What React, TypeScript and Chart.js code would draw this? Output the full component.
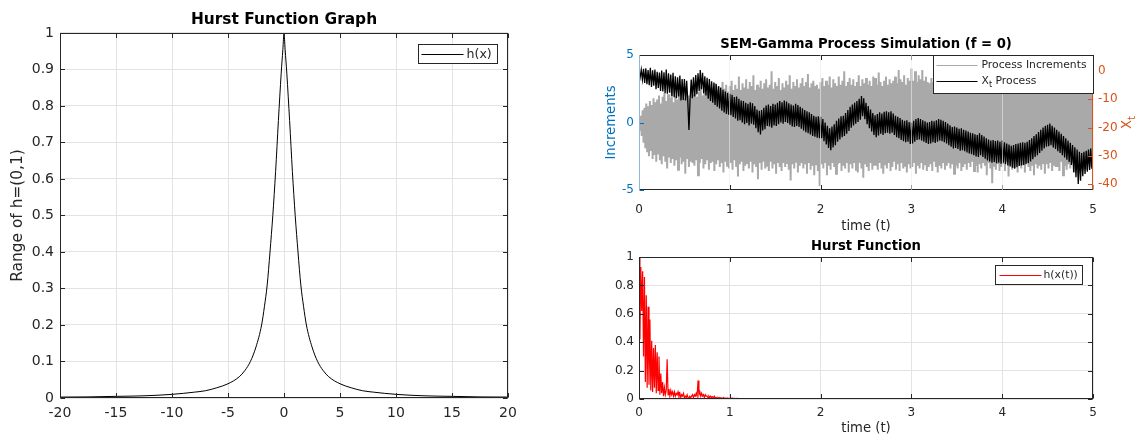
import React, { useEffect, useRef } from 'react';
import { Chart, registerables } from 'chart.js';

Chart.register(...registerables);

const FONT = '"DejaVu Sans", sans-serif';
const AX = '#262626';
const GRID = '#e3e3e3';
const BLUE = '#0072BD';
const ORANGE = '#D95319';
const GRAY = '#a9a9a9';

Chart.defaults.font.family = FONT;

// ---------- Left: Hurst function graph ----------
const hurstX = [-20, -17.5, -15, -12.5, -10, -8, -7, -6, -5, -4, -3.5, -3, -2.5, -2, -1.75, -1.5, -1.25, -1, -0.75, -0.5, -0.25, -0.1, 0,
  0.1, 0.25, 0.5, 0.75, 1, 1.25, 1.5, 1.75, 2, 2.5, 3, 3.5, 4, 5, 6, 7, 8, 10, 12.5, 15, 17.5, 20];
const hurstY = [0.0025, 0.003, 0.0045, 0.006, 0.01, 0.016, 0.02, 0.028, 0.039, 0.058, 0.075, 0.1, 0.14, 0.2, 0.25, 0.31, 0.4, 0.5, 0.62, 0.76, 0.89, 0.955, 1.0,
  0.955, 0.89, 0.76, 0.62, 0.5, 0.4, 0.31, 0.25, 0.2, 0.14, 0.1, 0.075, 0.058, 0.039, 0.028, 0.02, 0.016, 0.01, 0.006, 0.0045, 0.003, 0.0025];

// ---------- Top right: SEM-Gamma process ----------
const INC_DT = 0.01;
const increments = [
  0.0, -0.6, 0.5, -1.0, 0.9, -1.5, 1.1, -1.9, 1.4, -2.2, 1.2, -2.5, 1.6, -2.1, 1.3, -2.7, 1.8, -2.4, 1.5, -2.9,
  1.7, -2.3, 2.0, -2.8, 1.4, -3.1, 1.9, -2.5, 2.2, -2.9, 1.6, -3.4, 2.1, -2.6, 1.8, -3.0, 2.4, -2.7, 1.5, -3.2,
  2.0, -2.8, 1.7, -3.5, 2.3, -2.6, 1.9, -3.1, 2.5, -2.9, 1.8, -3.8, 2.2, -2.7, 2.0, -3.3, 1.7, -2.9, 2.4, -3.0,
  2.1, -3.2, 2.6, -2.8, 1.9, -3.9, 2.3, -3.0, 2.7, -2.7, 2.0, -3.4, 2.5, -3.1, 2.2, -2.8, 2.8, -3.5, 2.1, -3.0,
  2.6, -2.9, 2.3, -3.6, 2.9, -3.1, 2.4, -2.8, 2.7, -3.3, 2.2, -3.0, 3.0, -3.7, 2.5, -2.9, 2.8, -3.2, 2.3, -3.4,
  2.7, -3.0, 3.1, -3.5, 2.4, -2.8, 2.8, -3.3, 2.5, -4.0, 3.4, -3.1, 2.4, -2.9, 2.9, -3.6, 2.6, -3.2, 3.2, -3.0,
  2.5, -3.4, 3.0, -2.9, 2.7, -3.7, 3.5, -3.1, 2.4, -3.3, 2.8, -4.2, 2.6, -3.0, 3.1, -3.5, 2.5, -2.9, 2.9, -3.4,
  3.2, -3.2, 2.6, -3.6, 2.8, -2.9, 3.8, -3.4, 2.5, -3.1, 3.0, -3.8, 2.7, -3.0, 3.3, -3.3, 2.4, -3.6, 2.9, -3.0,
  2.6, -3.3, 3.1, -3.0, 2.8, -3.5, 3.5, -4.3, 2.5, -3.1, 3.0, -3.4, 2.7, -2.9, 3.2, -3.7, 2.6, -3.2, 2.9, -3.0,
  3.3, -3.4, 2.7, -3.1, 3.0, -3.8, 3.6, -3.0, 2.6, -3.5, 2.9, -3.2, 3.1, -3.9, 2.7, -3.1, 2.8, -3.6, 2.5, -4.7,
  3.0, -3.1, 3.3, -3.4, 2.7, -3.0, 3.1, -3.9, 2.8, -3.2, 3.4, -3.5, 2.6, -3.0, 3.2, -3.3, 2.9, -3.8, 2.7, -3.1,
  3.4, -3.0, 2.8, -3.6, 3.1, -3.2, 3.8, -3.4, 2.7, -3.0, 3.0, -3.7, 3.3, -3.1, 2.8, -3.4, 3.2, -3.0, 2.7, -3.5,
  3.0, -3.7, 3.5, -3.0, 2.7, -3.4, 3.2, -4.1, 2.9, -3.1, 3.3, -3.3, 2.8, -3.6, 3.1, -3.0, 2.7, -3.5, 3.4, -3.2,
  3.3, -3.2, 2.8, -3.5, 3.7, -3.0, 3.0, -3.4, 2.7, -3.8, 3.1, -3.1, 3.4, -3.4, 2.8, -3.0, 3.2, -3.6, 2.9, -3.3,
  3.1, -2.9, 3.4, -3.5, 2.9, -3.1, 3.9, -3.6, 3.2, -3.0, 3.0, -3.4, 3.5, -3.2, 2.8, -3.7, 3.3, -3.1, 3.1, -3.4,
  4.0, -3.3, 3.1, -3.0, 3.8, -3.8, 3.0, -3.2, 3.5, -3.4, 3.2, -3.0, 3.9, -3.5, 3.1, -3.1, 3.4, -3.6, 3.0, -3.3,
  2.9, -3.1, 3.3, -3.6, 3.0, -2.9, 3.4, -3.3, 2.8, -3.7, 3.2, -3.2, 2.9, -3.4, 3.5, -3.0, 3.0, -3.5, 2.8, -3.2,
  3.2, -3.0, 2.9, -3.4, 3.5, -3.1, 3.0, -3.8, 2.7, -3.2, 3.3, -3.4, 2.9, -3.0, 3.1, -3.6, 2.8, -3.3, 3.4, -3.1,
  3.3, -3.5, 2.8, -3.0, 3.2, -3.3, 3.6, -2.9, 2.9, -3.6, 3.1, -3.2, 2.8, -3.7, 3.4, -3.1, 3.0, -3.4, 2.8, -3.0,
  3.1, -3.2, 3.4, -3.9, 2.9, -3.0, 3.2, -3.4, 2.8, -4.5, 3.3, -3.2, 3.0, -3.5, 2.8, -3.1, 3.5, -3.6, 2.9, -3.3,
  3.5, -3.1, 3.0, -3.6, 3.3, -2.9, 2.9, -4.0, 3.2, -3.2, 2.8, -3.5, 3.4, -3.3, 3.0, -3.0, 3.2, -3.7, 2.8, -3.2,
  3.0, -3.4, 3.4, -3.1, 2.8, -3.7, 3.1, -3.0, 3.3, -3.3, 2.9, -3.6, 3.2, -3.2, 2.8, -3.9, 3.4, -3.1, 3.0, -3.4,
  2.9, -3.2, 3.2, -3.5, 3.5, -3.0, 3.0, -3.8, 2.8, -3.1, 3.3, -3.4, 2.9, -3.0, 3.1, -3.6, 3.4, -3.2, 2.8, -3.3,
  3.3, -3.3, 2.9, -3.6, 3.1, -2.9, 3.4, -3.9, 3.0, -3.2, 2.8, -3.5, 3.2, -3.1, 3.5, -3.4, 2.9, -3.0, 3.1, -3.7,
  3.2, -3.4, 2.8, -3.1, 3.3, -3.7, 3.1, -3.0, 2.9, -3.4, 3.4, -3.2, 3.0, -3.5, 2.8, -3.1, 3.2, -3.3, 2.9, -3.0,
  0.4,
];

const X_DT = 0.0125;
const xProcess = [
  0.0, -2.2, 0.5, -3.0, 0.8, -4.2, 1.0, -4.6, 0.4, -5.0, 1.2, -5.6, 0.3, -5.2, 0.6, -6.4, -0.2, -6.0, -0.5, -7.0,
  0.2, -7.2, -0.4, -7.8, 0.6, -8.0, -0.8, -7.6, -1.2, -8.8, -0.6, -9.2, -1.8, -9.6, -2.2, -9.0, -1.6, -10.4, -2.8, -10.2,
  -2.8, -10.4, -3.4, -10.8, -20.8, -10.2, -3.0, -9.6, -2.2, -9.0, -1.4, -8.2, -0.8, -7.0, 0.4, -6.4, -0.6, -7.8, -1.8, -8.6,
  -2.4, -9.8, -2.8, -10.6, -3.6, -11.2, -4.0, -12.0, -4.6, -12.6, -5.4, -13.2, -5.8, -14.0, -6.6, -14.6, -7.2, -15.2, -7.8, -15.4,
  -8.0, -15.6, -8.4, -16.2, -9.2, -16.8, -9.0, -17.6, -9.8, -17.4, -10.4, -18.2, -10.6, -18.8, -11.2, -18.4, -11.6, -19.2, -11.0, -18.6,
  -11.4, -19.0, -12.4, -20.2, -13.6, -21.6, -14.0, -22.4, -13.8, -21.0, -13.0, -20.6, -12.2, -19.4, -11.8, -19.6, -12.4, -20.0, -11.6, -19.2,
  -11.8, -19.4, -11.2, -18.8, -10.6, -18.2, -11.0, -18.6, -10.4, -18.0, -10.8, -18.4, -11.4, -19.0, -11.8, -19.6, -12.2, -19.8, -11.6, -19.4,
  -12.0, -19.8, -12.6, -20.4, -13.2, -21.0, -13.8, -21.6, -14.2, -22.0, -14.6, -22.4, -15.2, -23.0, -15.8, -23.2, -16.2, -23.6, -16.0, -23.8,
  -16.2, -23.8, -17.0, -24.8, -18.2, -26.0, -19.4, -27.2, -20.2, -28.0, -19.6, -27.0, -18.8, -26.2, -17.6, -25.0, -16.8, -24.2, -16.0, -23.4,
  -15.8, -23.0, -14.8, -22.2, -13.8, -21.2, -12.6, -20.0, -11.8, -19.2, -11.2, -18.6, -10.6, -18.0, -9.8, -17.2, -8.8, -16.0, -9.6, -17.0,
  -11.2, -18.8, -12.4, -20.2, -13.6, -21.4, -14.8, -22.6, -15.6, -23.4, -15.2, -22.8, -14.6, -22.2, -15.0, -22.6, -14.4, -22.0, -14.2, -21.8,
  -14.6, -22.2, -14.2, -21.8, -15.0, -22.6, -15.8, -23.4, -16.2, -23.8, -16.6, -24.4, -17.2, -24.8, -17.6, -25.2, -17.4, -25.0, -18.0, -25.8,
  -18.2, -25.6, -17.6, -25.0, -17.0, -24.4, -16.6, -24.2, -17.0, -24.6, -17.4, -25.0, -17.8, -25.4, -18.2, -25.8, -18.0, -25.6, -17.6, -25.2,
  -17.8, -25.4, -17.4, -25.0, -17.0, -24.6, -17.2, -24.8, -17.6, -25.2, -18.0, -25.6, -18.6, -26.2, -19.2, -26.8, -19.8, -27.4, -19.6, -27.2,
  -20.0, -27.6, -20.4, -28.2, -20.2, -28.0, -20.8, -28.4, -21.0, -28.8, -21.4, -29.2, -21.8, -29.4, -22.0, -29.8, -22.4, -30.2, -22.6, -30.4,
  -22.0, -29.8, -22.6, -30.4, -23.2, -31.0, -23.8, -31.6, -24.2, -32.0, -24.6, -32.4, -24.4, -32.2, -24.8, -32.6, -24.6, -32.4, -25.0, -32.8,
  -24.6, -32.4, -25.2, -33.0, -25.6, -33.4, -26.0, -33.8, -26.4, -34.2, -26.2, -34.6, -25.8, -34.0, -25.6, -33.6, -25.4, -33.4, -25.2, -33.2,
  -25.4, -33.0, -25.0, -32.6, -24.4, -32.0, -23.8, -31.2, -23.0, -30.4, -22.4, -29.8, -21.6, -29.0, -20.8, -28.2, -20.0, -27.4, -19.4, -26.8,
  -19.0, -26.6, -18.6, -26.2, -19.4, -27.0, -20.0, -27.6, -20.8, -28.4, -21.4, -29.0, -22.2, -29.8, -23.0, -30.6, -23.8, -31.4, -24.6, -32.2,
  -25.4, -33.2, -26.2, -35.8, -27.0, -37.6, -27.8, -40.0, -28.6, -38.8, -29.0, -37.2, -28.6, -36.4, -28.2, -35.6, -27.8, -35.0, -27.4, -34.6,
  -30.0,
];
const incTicks = [-5, 0, 5];
const xtTicks = [-40, -30, -20, -10, 0];

// ---------- Bottom right: Hurst function of the process ----------
const RED_DT = 0.01;
const hurstOfX = [
  1.0, 0.42, 0.93, 0.62, 0.90, 0.30, 0.86, 0.12, 0.73, 0.08,
  0.65, 0.10, 0.56, 0.06, 0.41, 0.05, 0.36, 0.08, 0.38, 0.04,
  0.33, 0.06, 0.30, 0.03, 0.18, 0.04, 0.12, 0.02, 0.08, 0.03,
  0.06, 0.28, 0.03, 0.07, 0.02, 0.06, 0.03, 0.05, 0.02, 0.05,
  0.02, 0.04, 0.03, 0.05, 0.02, 0.04, 0.01, 0.03, 0.02, 0.04,
  0.01, 0.02, 0.01, 0.03, 0.01, 0.005, 0.02, 0.01, 0.02, 0.03,
  0.01, 0.03, 0.02, 0.04, 0.02, 0.13, 0.03, 0.05, 0.02, 0.04,
  0.02, 0.03, 0.01, 0.03, 0.02, 0.02, 0.01, 0.02, 0.01, 0.02,
  0.01, 0.015, 0.01, 0.02, 0.005, 0.01, 0.005, 0.01, 0.005, 0.01,
  0.005, 0.008, 0.004, 0.01, 0.005, 0.006, 0.003, 0.007, 0.004, 0.005,
  0.003, 0.008, 0.004, 0.006, 0.003, 0.005, 0.003, 0.004, 0.002, 0.004,
  0.002, 0.003, 0.002, 0.003, 0.002, 0.002, 0.002, 0.003, 0.002, 0.002,
  0.002,
];
const hurstTailT = [1.4, 2, 3, 4, 5];
const hurstTailH = [0.002, 0.002, 0.002, 0.002, 0.002];

// ---------- helpers ----------
const fmt = (v: any) => String(Math.round(Number(v) * 1000) / 1000);

function drawRich(ctx: CanvasRenderingContext2D, text: string, x: number, y: number, size: number, color: string, align: 'left' | 'center') {
  const m = text.match(/^(.*?)_(\w)(.*)$/);
  const parts: [string, number, number][] = m
    ? [[m[1], size, 0], [m[2], size * 0.75, size * 0.3], [m[3], size, 0]]
    : [[text, size, 0]];
  const widths = parts.map((p) => {
    ctx.font = `${p[1]}px ${FONT}`;
    return ctx.measureText(p[0]).width;
  });
  const total = widths.reduce((a, b) => a + b, 0);
  let cx = align === 'center' ? x - total / 2 : x;
  ctx.fillStyle = color;
  ctx.textBaseline = 'middle';
  ctx.textAlign = 'left';
  parts.forEach((p, i) => {
    ctx.font = `${p[1]}px ${FONT}`;
    ctx.fillText(p[0], cx, y + p[2]);
    cx += widths[i];
  });
}

const matBox = {
  id: 'matBox',
  afterDatasetsDraw(chart: any, _a: any, o: any) {
    if (!o || !o.enabled) return;
    const { ctx, chartArea: a, scales } = chart;
    const L = Math.round(a.left) + 0.5;
    const R = Math.round(a.right) - 0.5;
    const T = Math.round(a.top) + 0.5;
    const B = Math.round(a.bottom) - 0.5;
    const len = o.tickLen || 4.5;
    ctx.save();
    ctx.lineWidth = 1;
    const seg = (x1: number, y1: number, x2: number, y2: number, c: string) => {
      ctx.strokeStyle = c;
      ctx.beginPath();
      ctx.moveTo(x1, y1);
      ctx.lineTo(x2, y2);
      ctx.stroke();
    };
    const xs = scales.x;
    xs.ticks.forEach((t: any) => {
      const px = Math.round(xs.getPixelForValue(t.value)) + 0.5;
      seg(px, B, px, B - len, AX);
      seg(px, T, px, T + len, AX);
    });
    const ys = scales.y;
    const y1 = scales.y1;
    ys.ticks.forEach((t: any) => {
      const py = Math.round(ys.getPixelForValue(t.value)) + 0.5;
      seg(L, py, L + len, py, o.leftColor || AX);
      if (!y1) seg(R, py, R - len, py, AX);
    });
    if (y1) {
      y1.ticks.forEach((t: any) => {
        const py = Math.round(y1.getPixelForValue(t.value)) + 0.5;
        seg(R, py, R - len, py, o.rightColor || AX);
      });
    }
    seg(L - 0.5, T, R + 0.5, T, AX);
    seg(L - 0.5, B, R + 0.5, B, AX);
    seg(L, T, L, B, o.leftColor || AX);
    seg(R, T, R, B, o.rightColor || AX);
    ctx.restore();
  },
};

const mLegend = {
  id: 'mLegend',
  afterDraw(chart: any, _a: any, o: any) {
    if (!o || !o.enabled) return;
    const { ctx, chartArea: a } = chart;
    const x0 = Math.round(a.right - o.right - o.w) + 0.5;
    const y0 = Math.round(a.top + o.top) + 0.5;
    ctx.save();
    ctx.fillStyle = '#fff';
    ctx.fillRect(x0, y0, o.w, o.h);
    ctx.strokeStyle = AX;
    ctx.lineWidth = 1;
    ctx.strokeRect(x0, y0, o.w, o.h);
    chart.data.datasets.forEach((ds: any, i: number) => {
      const cy = Math.round(y0 + o.first + i * o.rowH) + 0.5;
      ctx.strokeStyle = ds.borderColor;
      ctx.lineWidth = 1;
      ctx.beginPath();
      ctx.moveTo(x0 + o.lineFrom, cy);
      ctx.lineTo(x0 + o.lineTo, cy);
      ctx.stroke();
      drawRich(ctx, ds.label, x0 + o.textX, cy, o.size, AX, 'left');
    });
    ctx.restore();
  },
};

const rightTitle = {
  id: 'rightTitle',
  afterDraw(chart: any, _a: any, o: any) {
    if (!o || !o.text) return;
    const { ctx, chartArea: a } = chart;
    ctx.save();
    ctx.translate(a.right + o.offset, (a.top + a.bottom) / 2);
    ctx.rotate(-Math.PI / 2);
    drawRich(ctx, o.text, 0, 0, o.size, o.color, 'center');
    ctx.restore();
  },
};

const tickFont = (size: number) => ({ family: FONT, size });

function leftConfig(): any {
  return {
    type: 'line',
    data: {
      datasets: [
        {
          label: 'h(x)',
          data: hurstX.map((x, i) => ({ x, y: hurstY[i] })),
          borderColor: '#000000',
          borderWidth: 1,
          pointRadius: 0,
          cubicInterpolationMode: 'monotone',
          fill: false,
        },
      ],
    },
    options: {
      responsive: false,
      animation: false,
      devicePixelRatio: 1,
      layout: { padding: { left: 0, right: 32, top: 0, bottom: 0 } },
      plugins: {
        legend: { display: false },
        tooltip: { enabled: false },
        title: {
          display: true,
          text: 'Hurst Function Graph',
          fullSize: false,
          color: '#000',
          font: { family: FONT, size: 15.4, weight: 'bold' },
          padding: { top: 11.2, bottom: 3.3 },
        },
        matBox: { enabled: true, tickLen: 4.5 },
        mLegend: { enabled: true, right: 11, top: 11, w: 79, h: 19, first: 9.5, rowH: 16, lineFrom: 3, lineTo: 45, textX: 48, size: 12.6 },
      },
      scales: {
        x: {
          type: 'linear',
          min: -20,
          max: 20,
          ticks: { stepSize: 5, font: tickFont(14), color: AX, padding: 6.6, maxRotation: 0, autoSkip: false, callback: fmt },
          grid: { color: GRID, drawTicks: false },
          border: { display: false },
          afterFit: (s: any) => { s.height = 36; },
        },
        y: {
          type: 'linear',
          min: 0,
          max: 1,
          ticks: { stepSize: 0.1, font: tickFont(14), color: AX, padding: 6, callback: fmt },
          grid: { color: GRID, drawTicks: false },
          border: { display: false },
          title: { display: true, text: 'Range of h=(0,1)', color: AX, font: { family: FONT, size: 15.4 }, padding: { top: 8.8, bottom: 0 } },
          afterFit: (s: any) => { s.width = 60; },
        },
      },
    },
    plugins: [matBox, mLegend],
  };
}

function topConfig(): any {
  return {
    type: 'line',
    data: {
      datasets: [
        {
          label: 'Process Increments',
          data: increments.map((v, i) => ({ x: i * INC_DT, y: v })),
          borderColor: GRAY,
          borderWidth: 2,
          pointRadius: 0,
          yAxisID: 'y',
          order: 2,
          fill: false,
        },
        {
          label: 'X_t Process',
          data: xProcess.map((v, i) => ({ x: i * X_DT, y: v })),
          borderColor: '#000000',
          borderWidth: 1.3,
          pointRadius: 0,
          yAxisID: 'y1',
          order: 1,
          fill: false,
        },
      ],
    },
    options: {
      responsive: false,
      animation: false,
      devicePixelRatio: 1,
      layout: { padding: 0 },
      plugins: {
        legend: { display: false },
        tooltip: { enabled: false },
        title: {
          display: true,
          text: 'SEM-Gamma Process Simulation (f = 0)',
          fullSize: false,
          color: '#000',
          font: { family: FONT, size: 13.2, weight: 'bold' },
          padding: { top: 37, bottom: 2.2 },
        },
        matBox: { enabled: true, tickLen: 4.5, leftColor: BLUE, rightColor: ORANGE },
        mLegend: { enabled: true, right: 0, top: 0, w: 160, h: 38, first: 9.3, rowH: 16.4, lineFrom: 3, lineTo: 44, textX: 48, size: 10.8 },
        rightTitle: { text: 'X_t', offset: 35, size: 13.2, color: ORANGE },
      },
      scales: {
        x: {
          type: 'linear',
          min: 0,
          max: 5,
          ticks: { stepSize: 1, font: tickFont(12), color: AX, padding: 13, maxRotation: 0, autoSkip: false, callback: fmt },
          grid: { color: 'rgba(235,235,235,0.6)', drawTicks: false, z: 1 },
          border: { display: false },
          title: { display: true, text: 'time (t)', color: AX, font: { family: FONT, size: 13.2, lineHeight: 1 }, padding: { top: 0, bottom: 1 } },
          afterFit: (s: any) => { s.height = 44; },
        },
        y: {
          type: 'linear',
          position: 'left',
          min: -5,
          max: 5,
          afterBuildTicks: (s: any) => { s.ticks = incTicks.map((v) => ({ value: v })); },
          ticks: { font: tickFont(12), color: BLUE, padding: 5, callback: fmt },
          grid: { display: false, drawTicks: false },
          border: { display: false },
          title: { display: true, text: 'Increments', color: BLUE, font: { family: FONT, size: 13.2 }, padding: { top: 43.8, bottom: 0 } },
          afterFit: (s: any) => { s.width = 79; },
        },
        y1: {
          type: 'linear',
          position: 'right',
          min: -42.1,
          max: 5.7,
          afterBuildTicks: (s: any) => { s.ticks = xtTicks.map((v) => ({ value: v })); },
          ticks: { font: tickFont(12), color: ORANGE, padding: 5, callback: fmt },
          grid: { display: false, drawTicks: false },
          border: { display: false },
          afterFit: (s: any) => { s.width = 45; },
        },
      },
    },
    plugins: [matBox, mLegend, rightTitle],
  };
}

function bottomConfig(): any {
  const pts = hurstOfX.map((v, i) => ({ x: i * RED_DT, y: v }));
  hurstTailT.forEach((t, i) => pts.push({ x: t, y: hurstTailH[i] }));
  return {
    type: 'line',
    data: {
      datasets: [
        {
          label: 'h(x(t))',
          data: pts,
          borderColor: '#FF0000',
          borderWidth: 1.2,
          pointRadius: 0,
          fill: false,
        },
      ],
    },
    options: {
      responsive: false,
      animation: false,
      devicePixelRatio: 1,
      layout: { padding: { left: 0, right: 45, top: 0, bottom: 0 } },
      plugins: {
        legend: { display: false },
        tooltip: { enabled: false },
        title: {
          display: true,
          text: 'Hurst Function',
          fullSize: false,
          color: '#000',
          font: { family: FONT, size: 13.2, weight: 'bold' },
          padding: { top: 4.5, bottom: 2.7 },
        },
        matBox: { enabled: true, tickLen: 4.5 },
        mLegend: { enabled: true, right: 11, top: 8, w: 87, h: 19, first: 9.5, rowH: 16, lineFrom: 4, lineTo: 46, textX: 48, size: 10.8 },
      },
      scales: {
        x: {
          type: 'linear',
          min: 0,
          max: 5,
          ticks: { stepSize: 1, font: tickFont(12), color: AX, padding: 7, maxRotation: 0, autoSkip: false, callback: fmt },
          grid: { color: GRID, drawTicks: false },
          border: { display: false },
          title: { display: true, text: 'time (t)', color: AX, font: { family: FONT, size: 13.2, lineHeight: 1 }, padding: { top: 0, bottom: -1 } },
          afterFit: (s: any) => { s.height = 35; },
        },
        y: {
          type: 'linear',
          min: 0,
          max: 1,
          ticks: { stepSize: 0.2, font: tickFont(12), color: AX, padding: 5, callback: fmt },
          grid: { color: GRID, drawTicks: false },
          border: { display: false },
          afterFit: (s: any) => { s.width = 79; },
        },
      },
    },
    plugins: [matBox, mLegend],
  };
}

export default function App() {
  const leftRef = useRef<HTMLCanvasElement>(null);
  const topRef = useRef<HTMLCanvasElement>(null);
  const botRef = useRef<HTMLCanvasElement>(null);

  useEffect(() => {
    document.body.style.margin = '0';
    const c1 = new Chart(leftRef.current as HTMLCanvasElement, leftConfig());
    const c2 = new Chart(topRef.current as HTMLCanvasElement, topConfig());
    const c3 = new Chart(botRef.current as HTMLCanvasElement, bottomConfig());
    return () => {
      c1.destroy();
      c2.destroy();
      c3.destroy();
    };
  }, []);

  return (
    <div style={{ position: 'absolute', left: 0, top: 0, width: 1138, height: 434, background: '#ffffff', overflow: 'hidden' }}>
      <canvas ref={leftRef} width={540} height={434} style={{ position: 'absolute', left: 0, top: 0, width: 540, height: 434 }} />
      <canvas ref={topRef} width={578} height={234} style={{ position: 'absolute', left: 560, top: 0, width: 578, height: 234 }} />
      <canvas ref={botRef} width={578} height={200} style={{ position: 'absolute', left: 560, top: 234, width: 578, height: 200 }} />
    </div>
  );
}
